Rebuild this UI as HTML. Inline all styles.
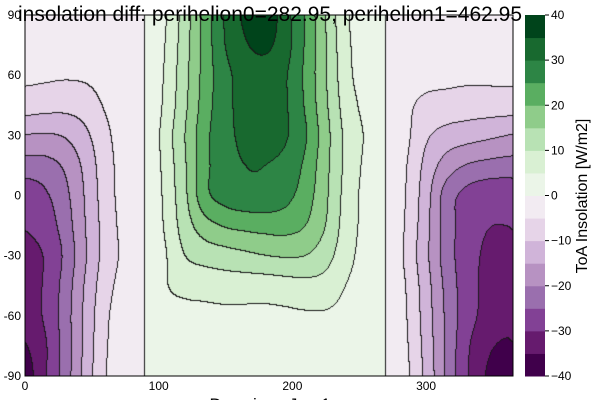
<!DOCTYPE html>
<html><head><meta charset="utf-8">
<style>
html,body{margin:0;padding:0;background:#fff;}
#wrap{position:relative;width:600px;height:400px;overflow:hidden;font-family:"Liberation Sans",sans-serif;}
#field{position:absolute;left:25px;top:15px;}
#ov{position:absolute;left:0;top:0;}
</style></head>
<body>
<div id="wrap">
<canvas id="field" width="488" height="361"></canvas>
<svg id="ov" width="600" height="400">
  <rect x="25" y="15" width="488" height="361" fill="none" stroke="#000" stroke-width="1"/>
  <text x="270" y="21" font-size="21" text-anchor="middle" fill="#000">insolation diff: perihelion0=282.95, perihelion1=462.95</text>
  <g id="xticks" font-size="12" fill="#000" text-anchor="middle"></g>
  <g id="yticks" font-size="12" fill="#000" text-anchor="end"></g>
  <text x="270" y="410" font-size="17" text-anchor="middle">Day since Jan 1</text>
  <g id="cbar"></g>
  <g id="cticks" font-size="12" fill="#000"></g>
  <text transform="translate(587,196) rotate(-90)" font-size="16" text-anchor="middle">ToA Insolation [W/m2]</text>
</svg>
</div>
<script>
const days = [0,15,30,45,60,75,90,105,120,135,150,165,180,195,210,225,240,255,270,285,300,315,330,345,360,365];
const lats = [90,75,60,45,30,15,0,-15,-30,-45,-60,-75,-90];
const r90  = [-2.8,-2.9,-3,-2.9,-2.3,-1,0,4.5,12.5,22,30.5,36,38.5,32,24.5,15,6,2.5,0,-1.7,-2.4,-2.7,-2.8,-2.8,-2.8,-2.8];
const r75  = [-3,-3.2,-3.3,-3.2,-2.6,-1.25,0,5,13,22,30,34.5,36,32,24.5,15.5,6.5,2.5,0,-1.8,-2.7,-3,-3,-3,-3,-3];
const r60  = [-4,-4.25,-4.5,-4.3,-3.25,-1.7,0,5.5,13.5,22,28.5,32,33,30.5,24,15.5,7,2.5,0,-2.5,-3.4,-3.75,-4,-4,-4,-4];
const r45  = [-7.6,-8.1,-8.4,-7.5,-4.6,-2.1,0,6,14,22.5,28.5,31.5,32,30.5,24.5,16,8,3.5,0,-3.75,-6.2,-6.9,-7.4,-7.5,-7.5,-7.6];
const r30  = [-15.1,-15.4,-14.5,-11.2,-6.3,-2.5,0,7,15,23.5,28.5,31,31.5,30.5,25.5,17,9,4.5,0,-3.75,-9.1,-11.7,-12.8,-13.8,-14.8,-15.1];
const r15  = [-22,-21.7,-19.2,-13.8,-7.25,-2.9,0,6.5,14.5,23.5,28,30,30,28.5,24,16.5,9,4,0,-4.6,-11.3,-17.1,-20.1,-21.3,-21.9,-22];
const r0   = [-28.2,-25.8,-21.4,-14.75,-7.7,-2.9,0,6,14,23.5,27,28.5,28.5,26.5,22.5,16,8.5,3.5,0,-5,-12.7,-21.9,-26.4,-28.25,-28.5,-28.2];
const rm15 = [-29.75,-27.75,-22.75,-15.25,-8.2,-3.3,0,5.5,12.5,18,20.5,21.5,22,22,20,15,8,3.5,0,-5.4,-13.2,-22,-27.25,-29.7,-30,-29.75];
const rm30 = [-31.3,-29.7,-24.1,-15.7,-8.25,-3.75,0,4.5,10,12,13,14,15,15.5,15,12,7,3,0,-5.8,-13.7,-22.1,-27.7,-30.6,-31.4,-31.3];
const rm45 = [-31.75,-29.5,-23.1,-14.7,-7.25,-2.9,0,4.5,6.5,7,7.5,7.5,7.5,8,8.5,8,5,2.5,0,-5,-12.7,-21.1,-27.5,-31,-31.9,-31.75];
const rm60 = [-32.6,-29.4,-22.6,-14.1,-6.25,-2.1,0,3,3.5,3.8,4,4,4,4.2,4.5,4.5,3.5,2,0,-4.6,-12.2,-20.6,-27.4,-31.4,-32.8,-32.6];
const rm75 = [-35.3,-30.75,-23,-14,-5.8,-2.1,0,2.2,2.8,3,3,3,3,3.2,3.3,3.3,2.8,1.5,0,-4.2,-11.7,-20.5,-28.7,-33.75,-35.75,-35.3];
const rm90 = [-37.4,-30.75,-22.9,-13.5,-5.4,-2.1,0,2,2.5,2.7,2.8,2.8,2.8,2.9,3,3,2.5,1.2,0,-3.75,-11.2,-20.4,-29.1,-35.1,-38.1,-37.4];
const values = [r90,r75,r60,r45,r30,r15,r0,rm15,rm30,rm45,rm60,rm75,rm90];
const levels = [-40,-35,-30,-25,-20,-15,-10,-5,0,5,10,15,20,25,30,35,40];
const bandColors = ["#40004b","#661b6e","#824195","#9a6fae","#b792c2","#d0b4d9","#e6d4e8","#f2ebf2","#ebf5e8","#d9f0d3","#b8e2b4","#8fcc8a","#5aae61","#2d8545","#18692f","#00441b"];
const xTicks = [0,100,200,300];
const yTicks = [90,60,30,0,-30,-60,-90];
const cTicks = [40,30,20,10,0,-10,-20,-30,-40];

const PX=25, PY=15, PW=488, PH=361;
const xScale = d => PX + d/365*PW;
const yScale = l => PY + (90-l)/180*PH;
const cScale = v => PY + (40-v)/80*PH;

function fracIndex(arr, v, desc){
  for(let i=0;i<arr.length-1;i++){
    const a=arr[i], b=arr[i+1];
    const inside = desc ? (v<=a && v>=b) : (v>=a && v<=b);
    if(inside) return i + (v-a)/(b-a);
  }
  return desc ? (v>arr[0]?0:arr.length-1) : (v<arr[0]?0:arr.length-1);
}
function cr(p0,p1,p2,p3,t){
  return 0.5*((2*p1)+(-p0+p2)*t+(2*p0-5*p1+4*p2-p3)*t*t+(-p0+3*p1-3*p2+p3)*t*t*t);
}
function val(d,l){
  const fx=fracIndex(days,d,false), fy=fracIndex(lats,l,true);
  const ix=Math.min(Math.floor(fx),days.length-2), iy=Math.min(Math.floor(fy),lats.length-2);
  const tx=fx-ix, ty=fy-iy;
  const nx=days.length, ny=lats.length;
  const cx=i=>Math.max(0,Math.min(nx-1,i)), cy=j=>Math.max(0,Math.min(ny-1,j));
  const rows=[];
  for(let j=-1;j<=2;j++){
    const row=values[cy(iy+j)];
    rows.push(cr(row[cx(ix-1)],row[cx(ix)],row[cx(ix+1)],row[cx(ix+2)],tx));
  }
  return cr(rows[0],rows[1],rows[2],rows[3],ty);
}
function hex(c){return [parseInt(c.slice(1,3),16),parseInt(c.slice(3,5),16),parseInt(c.slice(5,7),16)];}
const rgb = bandColors.map(hex);

const cv=document.getElementById('field'), ctx=cv.getContext('2d');
const img=ctx.createImageData(PW,PH);
const L=new Int8Array(PW*PH);
for(let y=0;y<PH;y++){
  const lat=90-(y+0.5)/PH*180;
  for(let x=0;x<PW;x++){
    const d=(x+0.5)/PW*365;
    const v=val(d,lat);
    let k=0;
    while(k<bandColors.length-1 && v>=levels[k+1]) k++;
    L[y*PW+x]=k;
  }
}
for(let y=0;y<PH;y++){
  for(let x=0;x<PW;x++){
    const k=L[y*PW+x];
    let c=rgb[k];
    const edge=(x<PW-1 && L[y*PW+x+1]!==k) || (y<PH-1 && L[(y+1)*PW+x]!==k);
    if(edge) c=[25,25,25];
    const o=(y*PW+x)*4;
    img.data[o]=c[0];img.data[o+1]=c[1];img.data[o+2]=c[2];img.data[o+3]=255;
  }
}
ctx.putImageData(img,0,0);

const NS="http://www.w3.org/2000/svg";
const gx=document.getElementById('xticks');
xTicks.forEach(t=>{
  const e=document.createElementNS(NS,'text');
  e.setAttribute('x',xScale(t)); e.setAttribute('y',390);
  e.textContent=t;
  
  
  gx.appendChild(e);
});
const gy=document.getElementById('yticks');
yTicks.forEach(t=>{
  const e=document.createElementNS(NS,'text');
  e.setAttribute('x',21); e.setAttribute('y',yScale(t)+4);
  e.textContent=t;
  
  
  gy.appendChild(e);
});
const gc=document.getElementById('cbar');
bandColors.forEach((c,i)=>{
  const r=document.createElementNS(NS,'rect');
  const y0=cScale(levels[i+1]), y1=cScale(levels[i]);
  r.setAttribute('x',525); r.setAttribute('y',y0); r.setAttribute('width',20); r.setAttribute('height',y1-y0+0.5);
  r.setAttribute('fill',c);
  
  
  gc.appendChild(r);
});
const gt=document.getElementById('cticks');
cTicks.forEach(t=>{
  const ln=document.createElementNS(NS,'line');
  ln.setAttribute('x1',545); ln.setAttribute('x2',549); ln.setAttribute('y1',cScale(t)); ln.setAttribute('y2',cScale(t));
  ln.setAttribute('stroke','#000');
  
  
  gt.appendChild(ln);
  const e=document.createElementNS(NS,'text');
  e.setAttribute('x',551); e.setAttribute('y',cScale(t)+4);
  e.textContent=t<0?'\u2212'+(-t):t;
  
  
  gt.appendChild(e);
});
</script>
</body></html>
